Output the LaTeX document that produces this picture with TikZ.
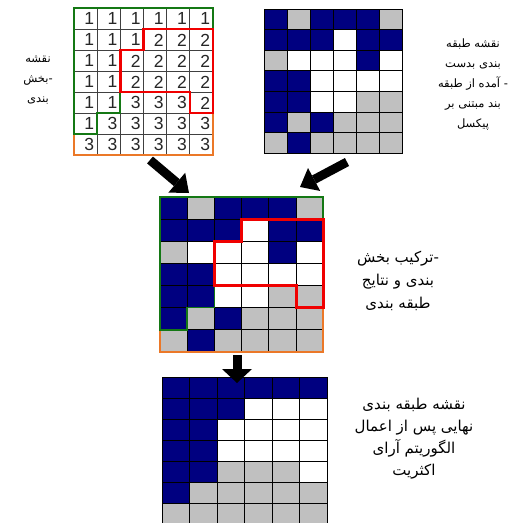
\documentclass[tikz,border=0pt]{standalone}
\usepackage{fontspec}
\usetikzlibrary{arrows.meta}
\setmainfont{Liberation Sans}
\newfontfamily\arabicfont[Script=Arabic]{DejaVu Sans}
\TeXXeTstate=1
\definecolor{navyc}{RGB}{0,0,128}
\definecolor{greyc}{RGB}{192,192,192}
\definecolor{regG}{RGB}{20,120,20}
\definecolor{regR}{RGB}{240,0,0}
\definecolor{regO}{RGB}{235,120,40}
\colorlet{cB}{navyc}
\colorlet{cG}{greyc}
\colorlet{cW}{white}
\newcommand\rtldash[1]{\hbox{\beginR #1\endR}\hbox{-}}
\newcommand\rtldashsp[1]{\hbox{\beginR #1\endR}\hbox{\ -}}
\tikzset{
  gridline/.style={draw=black, line width=0.9pt},
  numtext/.style={anchor=east, inner sep=0pt, font=\fontsize{17.5}{17.5}\selectfont, text=black!85},
  label/.style={align=center, font=\arabicfont\fontsize{11.5}{20}\selectfont, inner sep=0pt},
  bigarrow/.style={line width=9pt, -{Triangle[length=16pt,width=26pt,line width=0pt]}},
  greenreg/.style={draw=regG, line width=1.8pt, line join=miter},
  redreg/.style={draw=regR, line width=2.4pt, line join=miter},
  orangereg/.style={draw=regO, line width=1.6pt, line join=miter},
}
\begin{document}
\begin{tikzpicture}[x=1pt,y=-1pt]
\useasboundingbox (0,0) rectangle (524,522);
\fill[white] (0,0) rectangle (524,522);

% ---------- grid 1 : segmentation numbers ----------
\begin{scope}[shift={(74,8)}, x=23.17pt, y=-21pt]
  \foreach \row [count=\r from 0] in {{1,1,1,1,1,1},{1,1,1,2,2,2},{1,1,2,2,2,2},{1,1,2,2,2,2},{1,1,3,3,3,2},{1,3,3,3,3,3},{3,3,3,3,3,3}}{
    \foreach \v [count=\i from 0] in \row {
      \draw[draw=black!75, line width=0.8pt] (\i,\r) rectangle (\i+1,\r+1);
      \node[numtext] (n-\r-\i) at (\i+0.88,\r+0.52) {\v};
    }
  }
  \draw[orangereg] (2,4) -- (5,4) -- (5,5) -- (6,5) -- (6,7) -- (0,7) -- (0,6) -- (1,6) -- (1,5) -- (2,5) -- cycle;
  \draw[greenreg] (0,0) -- (6,0) -- (6,1) -- (3,1) -- (3,2) -- (2,2) -- (2,5) -- (1,5) -- (1,6) -- (0,6) -- cycle;
  \draw[redreg] (3,1) -- (6,1) -- (6,5) -- (5,5) -- (5,4) -- (2,4) -- (2,2) -- (3,2) -- cycle;
\end{scope}

% ---------- grid 2 : pixel-based classification ----------
\begin{scope}[shift={(264,9)}, x=23pt, y=-20.6pt]
  \foreach \row [count=\r from 0] in {{B,G,B,B,B,G},{B,B,B,W,B,B},{G,W,W,W,B,W},{B,B,W,W,W,W},{B,B,W,W,G,G},{B,G,B,G,G,G},{G,B,G,G,G,G}}{
    \foreach \c [count=\i from 0] in \row {
      \fill[c\c] (\i,\r) rectangle (\i+1,\r+1);
      \draw[gridline] (\i,\r) rectangle (\i+1,\r+1);
    }
  }
\end{scope}

% ---------- grid 3 : combination ----------
\begin{scope}[shift={(160,197)}, x=27.2pt, y=-22.1pt]
  \foreach \row [count=\r from 0] in {{B,G,B,B,B,G},{B,B,B,W,B,B},{G,W,W,W,B,W},{B,B,W,W,W,W},{B,B,W,W,G,G},{B,G,B,G,G,G},{G,B,G,G,G,G}}{
    \foreach \c [count=\i from 0] in \row {
      \fill[c\c] (\i,\r) rectangle (\i+1,\r+1);
      \draw[gridline] (\i,\r) rectangle (\i+1,\r+1);
    }
  }
  \draw[orangereg] (2,4) -- (5,4) -- (5,5) -- (6,5) -- (6,7) -- (0,7) -- (0,6) -- (1,6) -- (1,5) -- (2,5) -- cycle;
  \draw[greenreg] (0,0) -- (6,0) -- (6,1) -- (3,1) -- (3,2) -- (2,2) -- (2,5) -- (1,5) -- (1,6) -- (0,6) -- cycle;
  \draw[redreg, line width=3pt] (3,1) -- (6,1) -- (6,5) -- (5,5) -- (5,4) -- (2,4) -- (2,2) -- (3,2) -- cycle;
\end{scope}

% ---------- grid 4 : final map ----------
\begin{scope}[shift={(162,377)}, x=27.5pt, y=-21.1pt]
  \foreach \row [count=\r from 0] in {{B,B,B,B,B,B},{B,B,B,W,W,W},{B,B,W,W,W,W},{B,B,W,W,W,W},{B,B,G,G,G,W},{B,G,G,G,G,G},{G,G,G,G,G,G}}{
    \foreach \c [count=\i from 0] in \row {
      \fill[c\c] (\i,\r) rectangle (\i+1,\r+1);
      \draw[gridline] (\i,\r) rectangle (\i+1,\r+1);
    }
  }
\end{scope}

% ---------- arrows ----------
\coordinate (a1s) at (150,160);
\coordinate (a1e) at (189,193);
\coordinate (a2s) at (347,162);
\coordinate (a2e) at (300,187);
\coordinate (a3s) at (237,355);
\coordinate (a3e) at (237,383);
\draw[bigarrow] (a1s) -- (a1e);
\draw[bigarrow] (a2s) -- (a2e);
\draw[bigarrow, -{Triangle[length=14pt,width=30pt,line width=0pt]}] (a3s) -- (a3e);

% ---------- labels ----------
\node[label] (lab1) at (38,80) {\beginR نقشه\endR\\\rtldash{بخش}\\\beginR بندی\endR};
\node[label] (lab2) at (473,85) {\beginR نقشه طبقه\endR\\\beginR بندی بدست\endR\\\rtldashsp{آمده از طبقه}\\\beginR بند مبتنی بر\endR\\\beginR پیکسل\endR};
\node[label, font=\arabicfont\fontsize{15}{23}\selectfont] (lab3) at (398,281) {\rtldash{ترکیب بخش}\\\beginR بندی و نتایج\endR\\\beginR طبقه بندی\endR};
\node[label, font=\arabicfont\fontsize{15}{22}\selectfont] (lab4) at (414,439) {\beginR نقشه طبقه بندی\endR\\\beginR نهایی پس از اعمال\endR\\\beginR الگوریتم آرای\endR\\\beginR اکثریت\endR};
\end{tikzpicture}
\end{document}
